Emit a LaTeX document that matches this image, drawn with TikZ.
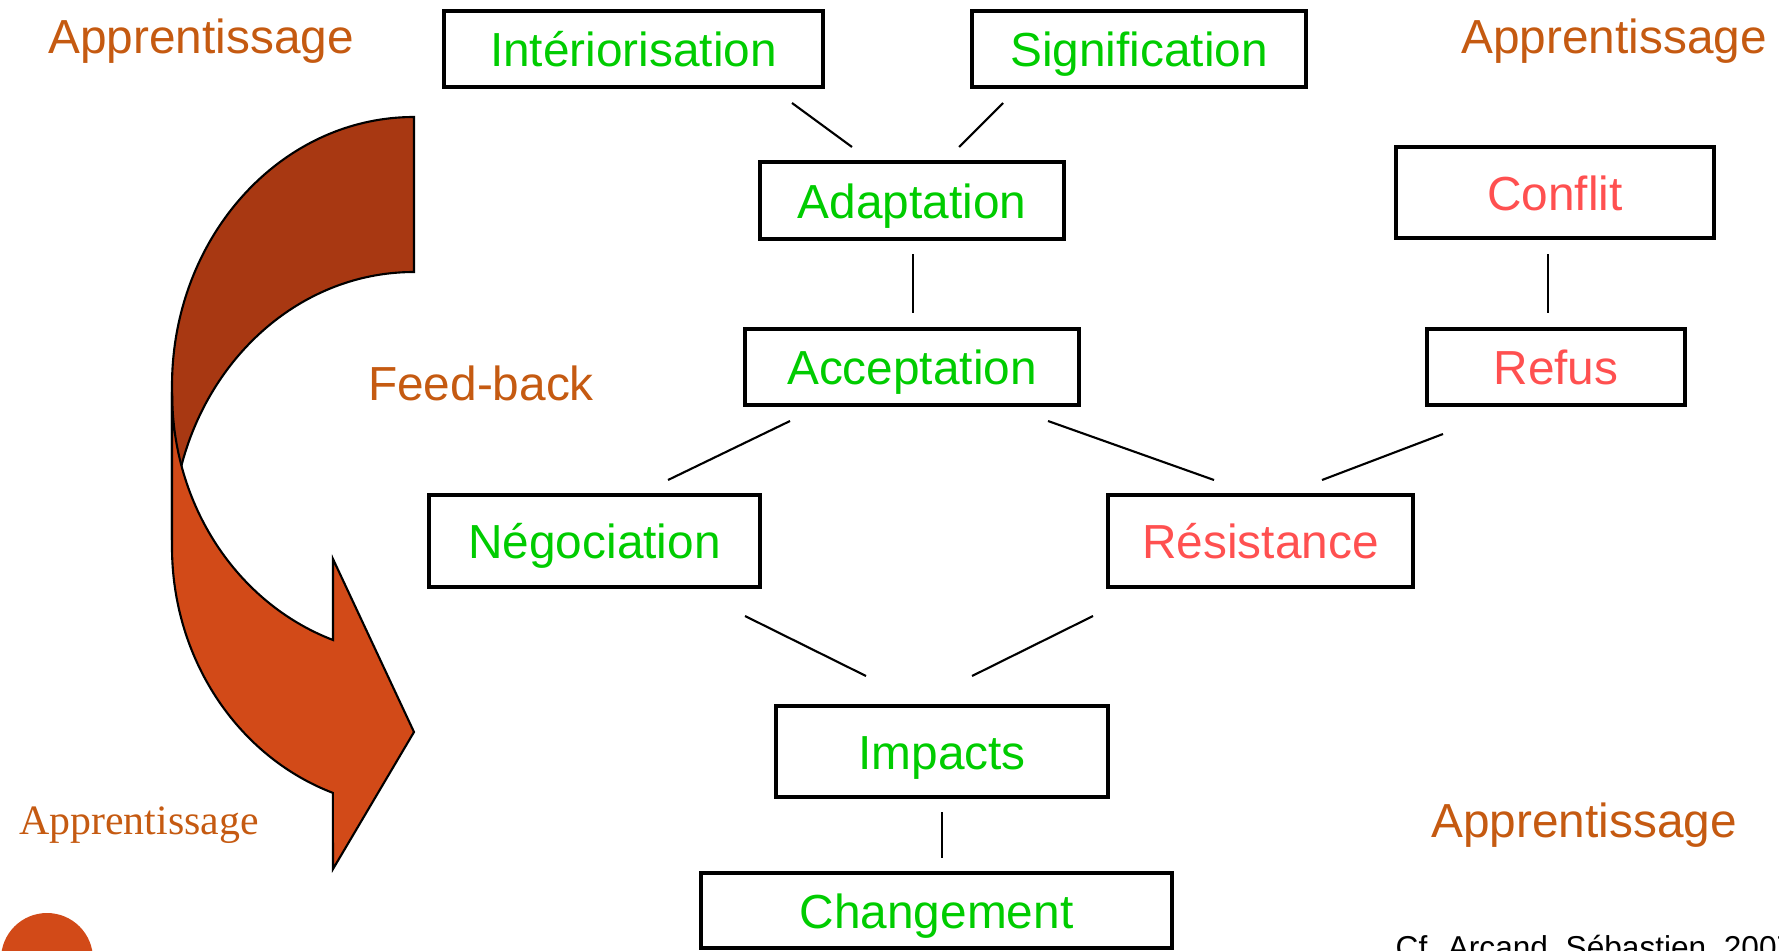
\documentclass[tikz,border=0pt]{standalone}
\usepackage{fontspec}
\setmainfont{Liberation Sans}
\newfontfamily\garafont{Liberation Serif}
\usepackage{tikz}
\definecolor{vert}{RGB}{0,204,0}
\definecolor{rouge}{RGB}{255,80,80}
\definecolor{brique}{RGB}{197,90,17}
\definecolor{fleche}{RGB}{210,74,24}
\definecolor{flechefonce}{RGB}{168,56,18}

\begin{document}
\begin{tikzpicture}[inner sep=0mm,
  box/.style={rectangle,draw=black,line width=1pt,font=\fontsize{13.6}{16}\selectfont,text height=1.0em,text depth=0pt},
  oui/.style={text=vert},
  non/.style={text=rouge},
  etiquette/.style={text=brique,font=\fontsize{13.6}{16}\selectfont},
  lien/.style={draw=black,line width=0.6pt}]
\useasboundingbox (0,0) rectangle (17.79,-9.50);
\clip (0,0) rectangle (17.79,-9.50);
%Feed-back arrow
\filldraw[fill=flechefonce,draw=black,line width=0.6pt] (4.14,-1.17) arc[start angle=90,end angle=180,x radius=2.42,y radius=2.69] -- (1.72,-5.40) arc[start angle=180,end angle=90,x radius=2.42,y radius=2.68] -- cycle;
\filldraw[fill=fleche,draw=black,line width=0.6pt] (1.72,-3.94) -- (1.72,-5.47) arc[start angle=180,end angle=250.4,x radius=2.42,y radius=2.61] -- (3.33,-8.69) -- (4.14,-7.32) -- (3.33,-5.59) -- (3.33,-6.40) arc[start angle=250.4,end angle=180,x radius=2.42,y radius=2.61] -- cycle;
\fill[fleche] (0.47,-9.59) circle (0.46);
%Node Coordinates
\node at (6.335,-0.49) [box,oui,minimum width=3.79cm,minimum height=0.76cm] (Inter) {Intériorisation};
\node at (11.39,-0.49) [box,oui,minimum width=3.34cm,minimum height=0.76cm] (Signif) {Signification};
\node at (9.12,-2.005) [box,oui,minimum width=3.04cm,minimum height=0.77cm] (Adapt) {Adaptation};
\node at (15.55,-1.925) [box,non,minimum width=3.18cm,minimum height=0.91cm] (Conflit) {Conflit};
\node at (9.12,-3.67) [box,oui,minimum width=3.34cm,minimum height=0.76cm] (Accept) {Acceptation};
\node at (15.56,-3.67) [box,non,minimum width=2.58cm,minimum height=0.76cm] (Refus) {Refus};
\node at (5.945,-5.41) [box,oui,minimum width=3.31cm,minimum height=0.92cm] (Nego) {Négociation};
\node at (12.605,-5.41) [box,non,minimum width=3.05cm,minimum height=0.92cm] (Resist) {Résistance};
\node at (9.42,-7.515) [box,oui,minimum width=3.32cm,minimum height=0.91cm] (Impacts) {Impacts};
\node at (9.365,-9.105) [box,oui,minimum width=4.71cm,minimum height=0.75cm] (Change) {Changement};
%Free labels
\node at (2.01,-0.41) [etiquette] (AppHG) {Apprentissage};
\node at (16.14,-0.41) [etiquette] (AppHD) {Apprentissage};
\node at (4.81,-3.83) [etiquette] (Feed) {Feed-back};
\node at (15.84,-8.25) [etiquette] (AppBD) {Apprentissage};
\node at (1.39,-8.25) [text=brique,font=\garafont\fontsize{11.9}{14}\selectfont] (AppBG) {Apprentissage};
\node at (13.95,-9.58) [anchor=base west,font=\fontsize{9}{11}\selectfont] (Source) {Cf. Arcand, Sébastien, 2007};
%Connection ends
\coordinate (InterA) at (7.92,-1.03);  \coordinate (InterB) at (8.52,-1.47);
\coordinate (SignifA) at (10.03,-1.03); \coordinate (SignifB) at (9.59,-1.47);
\coordinate (AdaptA) at (9.13,-2.54);  \coordinate (AdaptB) at (9.13,-3.13);
\coordinate (ConflitA) at (15.48,-2.54); \coordinate (ConflitB) at (15.48,-3.13);
\coordinate (AcceptLA) at (7.90,-4.21); \coordinate (AcceptLB) at (6.68,-4.80);
\coordinate (AcceptRA) at (10.48,-4.21); \coordinate (AcceptRB) at (12.14,-4.80);
\coordinate (RefusA) at (14.43,-4.34); \coordinate (RefusB) at (13.22,-4.80);
\coordinate (NegoA) at (7.45,-6.16); \coordinate (NegoB) at (8.66,-6.76);
\coordinate (ResistA) at (10.93,-6.16); \coordinate (ResistB) at (9.72,-6.76);
\coordinate (ImpactsA) at (9.42,-8.12); \coordinate (ImpactsB) at (9.42,-8.58);
%Connections
\draw [lien] (InterA) -- (InterB);
\draw [lien] (SignifA) -- (SignifB);
\draw [lien] (AdaptA) -- (AdaptB);
\draw [lien] (ConflitA) -- (ConflitB);
\draw [lien] (AcceptLA) -- (AcceptLB);
\draw [lien] (AcceptRA) -- (AcceptRB);
\draw [lien] (RefusA) -- (RefusB);
\draw [lien] (NegoA) -- (NegoB);
\draw [lien] (ResistA) -- (ResistB);
\draw [lien] (ImpactsA) -- (ImpactsB);
\end{tikzpicture}
\end{document}
